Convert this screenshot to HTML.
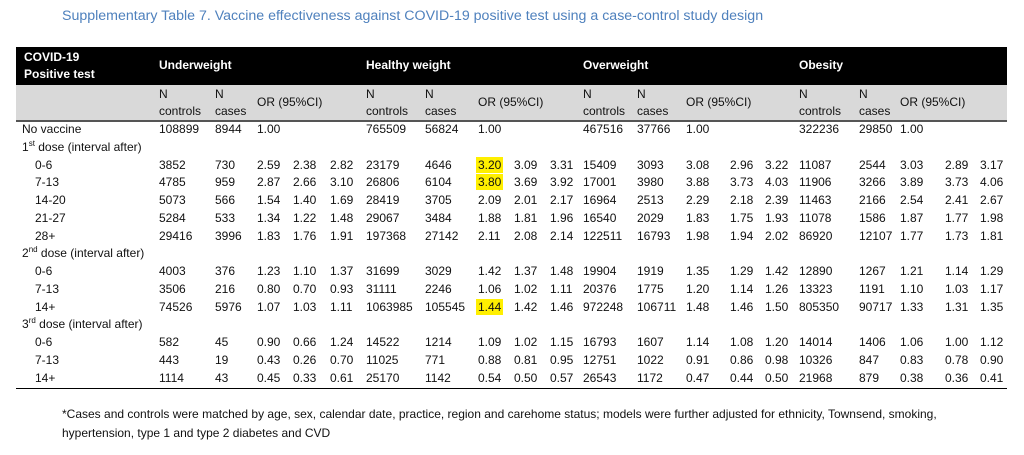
<!DOCTYPE html>
<html><head><meta charset="utf-8">
<style>
body{margin:0;width:1024px;height:455px;background:#fff;position:relative;overflow:hidden;font-family:"Liberation Sans",sans-serif;font-size:12px;color:#111}
.a{position:absolute;white-space:nowrap;line-height:14px}
.t{position:absolute;left:62px;top:8px;font-size:14.2px;color:#4f81bd;white-space:nowrap}
.blk{position:absolute;left:16px;top:47px;width:991px;height:38px;background:#000}
.gr{position:absolute;left:16px;top:85px;width:991px;height:35px;background:#d9d9d9;border-bottom:2px solid #555}
.bot{position:absolute;left:16px;top:388px;width:991px;height:0;border-top:1.5px solid #000}
.w{color:#fff;font-weight:bold}
.hl{background:#ffef00;padding:1px 2px;margin-left:-2px}
.f{position:absolute;left:62px;font-size:12px;white-space:nowrap}
sup{font-size:8px;line-height:0}
</style></head><body>
<div class="t">Supplementary Table 7. Vaccine effectiveness against COVID-19 positive test using a case-control study design</div>
<div class="blk"></div><div class="gr"></div><div class="bot"></div>
<div class="a w" style="left:24px;top:50px">COVID-19</div>
<div class="a w" style="left:24px;top:67px">Positive test</div>
<div class="a w" style="left:159px;top:58px">Underweight</div>
<div class="a w" style="left:366px;top:58px">Healthy weight</div>
<div class="a w" style="left:583px;top:58px">Overweight</div>
<div class="a w" style="left:799px;top:58px">Obesity</div>
<div id="c"></div>
<div class="f" style="top:407px">*Cases and controls were matched by age, sex, calendar date, practice, region and carehome status; models were further adjusted for ethnicity, Townsend, smoking,</div>
<div class="f" style="top:426px">hypertension, type 1 and type 2 diabetes and CVD</div>
<script>
var X=[[159,215,257,293,330],[366,425,478,514,550],[583,637,686,730,765],[799,859,900,945,980]];
var h='';
X.forEach(function(g){h+='<div class="a" style="left:'+g[0]+'px;top:87px">N</div><div class="a" style="left:'+g[0]+'px;top:104px">controls</div><div class="a" style="left:'+g[1]+'px;top:87px">N</div><div class="a" style="left:'+g[1]+'px;top:104px">cases</div><div class="a" style="left:'+g[2]+'px;top:95px">OR (95%CI)</div>';});
var R=[
["No vaccine",0,"108899 8944 1.00 - - 765509 56824 1.00 - - 467516 37766 1.00 - - 322236 29850 1.00 - -"],
["1<sup>st</sup> dose (interval after)",0,""],
["0-6",1,"3852 730 2.59 2.38 2.82 23179 4646 3.20 3.09 3.31 15409 3093 3.08 2.96 3.22 11087 2544 3.03 2.89 3.17"],
["7-13",1,"4785 959 2.87 2.66 3.10 26806 6104 3.80 3.69 3.92 17001 3980 3.88 3.73 4.03 11906 3266 3.89 3.73 4.06"],
["14-20",1,"5073 566 1.54 1.40 1.69 28419 3705 2.09 2.01 2.17 16964 2513 2.29 2.18 2.39 11463 2166 2.54 2.41 2.67"],
["21-27",1,"5284 533 1.34 1.22 1.48 29067 3484 1.88 1.81 1.96 16540 2029 1.83 1.75 1.93 11078 1586 1.87 1.77 1.98"],
["28+",1,"29416 3996 1.83 1.76 1.91 197368 27142 2.11 2.08 2.14 122511 16793 1.98 1.94 2.02 86920 12107 1.77 1.73 1.81"],
["2<sup>nd</sup> dose (interval after)",0,""],
["0-6",1,"4003 376 1.23 1.10 1.37 31699 3029 1.42 1.37 1.48 19904 1919 1.35 1.29 1.42 12890 1267 1.21 1.14 1.29"],
["7-13",1,"3506 216 0.80 0.70 0.93 31111 2246 1.06 1.02 1.11 20376 1775 1.20 1.14 1.26 13323 1191 1.10 1.03 1.17"],
["14+",1,"74526 5976 1.07 1.03 1.11 1063985 105545 1.44 1.42 1.46 972248 106711 1.48 1.46 1.50 805350 90717 1.33 1.31 1.35"],
["3<sup>rd</sup> dose (interval after)",0,""],
["0-6",1,"582 45 0.90 0.66 1.24 14522 1214 1.09 1.02 1.15 16793 1607 1.14 1.08 1.20 14014 1406 1.06 1.00 1.12"],
["7-13",1,"443 19 0.43 0.26 0.70 11025 771 0.88 0.81 0.95 12751 1022 0.91 0.86 0.98 10326 847 0.83 0.78 0.90"],
["14+",1,"1114 43 0.45 0.33 0.61 25170 1142 0.54 0.50 0.57 26543 1172 0.47 0.44 0.50 21968 879 0.38 0.36 0.41"]];
R.forEach(function(r,i){var y=Math.round(122+i*17.75);
h+='<div class="a" style="left:'+(r[1]?35:22)+'px;top:'+y+'px">'+r[0]+'</div>';
if(r[2]){var v=r[2].split(' ');v.forEach(function(s,k){if(s=='-')return;var g=X[Math.floor(k/5)][k%5];
var hl=(k==7&&(i==2||i==3||i==10));
h+='<div class="a" style="left:'+g+'px;top:'+y+'px">'+(hl?'<span class="hl">'+s+'</span>':s)+'</div>';});}
});
document.getElementById('c').innerHTML=h;
</script>
</body></html>
